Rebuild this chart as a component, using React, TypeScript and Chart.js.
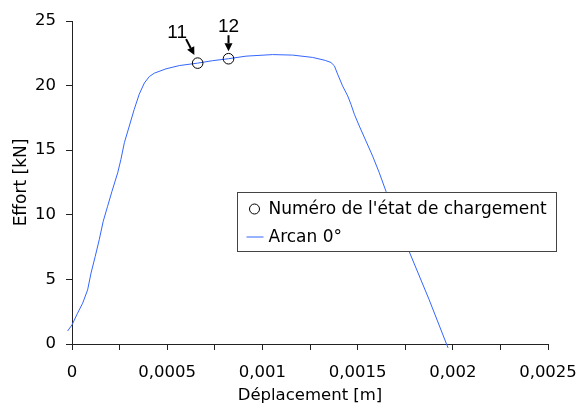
import React, { useEffect, useRef } from 'react';
import { Chart, registerables } from 'chart.js';

Chart.register(...registerables);

// ---- Data ----
const displacement = [
  -0.000023, 0, 0.000029, 0.000056, 0.000082, 0.0001, 0.000122, 0.000143, 0.000164, 0.000187,
  0.00021, 0.00024, 0.000257, 0.000275, 0.000301, 0.000327, 0.000353, 0.00038, 0.000406, 0.000432,
  0.000494, 0.000564, 0.00066, 0.000739, 0.000822, 0.000914, 0.001054, 0.001159, 0.001264, 0.00133,
  0.00136, 0.001378, 0.001395, 0.001421, 0.001448, 0.001465, 0.001483, 0.001509, 0.001544, 0.001579,
  0.001614, 0.001649, 0.001772, 0.001876, 0.001975,
];
const effort = [
  1.01, 1.48, 2.38, 3.16, 4.19, 5.49, 6.78, 8.07, 9.5, 10.66,
  11.82, 13.25, 14.29, 15.58, 16.87, 18.17, 19.33, 20.2, 20.7, 20.96,
  21.3, 21.55, 21.74, 21.93, 22.08, 22.28, 22.4, 22.36, 22.18, 21.95,
  21.79, 21.53, 20.89, 19.98, 19.2, 18.56, 17.78, 16.87, 15.71, 14.54,
  13.25, 11.82, 7.12, 3.42, -0.3,
];
const stateDisplacement = [0.00066, 0.000822];
const stateEffort = [21.74, 22.08];
const stateNumbers = ['11', '12'];

const xTickLabels = ['0', '0,0005', '0,001', '0,0015', '0,002', '0,0025'];
const yTickLabels = ['0', '5', '10', '15', '20', '25'];
const seriesLabel = 'Arcan 0°';
const stateLabel = "Numéro de l'état de chargement";
const xTitle = 'Déplacement [m]';
const yTitle = 'Effort [kN]';

const FONT = "'DejaVu Sans', sans-serif";
const LINE_COLOR = '#3366ff';

const annotationPlugin = {
  id: 'stateAnnotations',
  afterDatasetsDraw(chart: any) {
    const meta = chart.getDatasetMeta(1);
    const ctx: CanvasRenderingContext2D = chart.ctx;
    const specs = [
      { tx: -20.5, ty: -24.7, sx: -11.6, sy: -24, ex: -3.3, ey: -8 },
      { tx: 0, ty: -27, sx: 0, sy: -23.5, ex: 0, ey: -7.6 },
    ];
    ctx.save();
    meta.data.forEach((pt: any, i: number) => {
      const s = specs[i];
      if (!s) return;
      const px = pt.x;
      const py = pt.y;
      ctx.fillStyle = '#000';
      ctx.font = "19px 'Liberation Sans', Arial, sans-serif";
      ctx.textAlign = 'center';
      ctx.textBaseline = 'alphabetic';
      ctx.fillText(stateNumbers[i], px + s.tx, py + s.ty);
      // arrow
      const x0 = px + s.sx, y0 = py + s.sy, x1 = px + s.ex, y1 = py + s.ey;
      const ang = Math.atan2(y1 - y0, x1 - x0);
      const hl = 8, hw = 4;
      const bx = x1 - hl * Math.cos(ang), by = y1 - hl * Math.sin(ang);
      ctx.strokeStyle = '#000';
      ctx.lineWidth = 2;
      ctx.beginPath();
      ctx.moveTo(x0, y0);
      ctx.lineTo(bx, by);
      ctx.stroke();
      ctx.beginPath();
      ctx.moveTo(x1, y1);
      ctx.lineTo(bx + hw * Math.sin(ang), by - hw * Math.cos(ang));
      ctx.lineTo(bx - hw * Math.sin(ang), by + hw * Math.cos(ang));
      ctx.closePath();
      ctx.fill();
    });
    ctx.restore();
  },
};

const legendPlugin = {
  id: 'boxLegend',
  afterDraw(chart: any) {
    const { ctx, chartArea } = chart;
    const left = chartArea.left + 165.5;
    const top = chartArea.top + 171.5;
    const w = 319;
    const h = 59;
    ctx.save();
    ctx.fillStyle = '#fff';
    ctx.fillRect(left, top, w, h);
    ctx.strokeStyle = '#444';
    ctx.lineWidth = 1;
    ctx.strokeRect(left, top, w, h);
    const ds = chart.data.datasets;
    // row 1: markers
    const r1 = top + 16.5;
    ctx.beginPath();
    ctx.arc(left + 17, r1, 5, 0, Math.PI * 2);
    ctx.strokeStyle = ds[1].borderColor;
    ctx.lineWidth = 1;
    ctx.stroke();
    ctx.fillStyle = '#000';
    ctx.font = `17px ${FONT}`;
    ctx.textAlign = 'left';
    ctx.textBaseline = 'middle';
    ctx.fillText(ds[1].label, left + 31, r1 + 0.5);
    // row 2: line
    const r2 = top + 44;
    ctx.beginPath();
    ctx.moveTo(left + 9, r2 + 0.5);
    ctx.lineTo(left + 26, r2 + 0.5);
    ctx.strokeStyle = ds[0].borderColor;
    ctx.stroke();
    ctx.fillText(ds[0].label, left + 31, r2 + 1.5);
    ctx.restore();
  },
};

export default function App() {
  const canvasRef = useRef<HTMLCanvasElement | null>(null);

  useEffect(() => {
    if (!canvasRef.current) return;
    const chart = new Chart(canvasRef.current, {
      type: 'scatter',
      data: {
        datasets: [
          {
            label: seriesLabel,
            data: displacement.map((x, i) => ({ x, y: effort[i] })),
            showLine: true,
            borderColor: LINE_COLOR,
            borderWidth: 1,
            pointRadius: 0,
            tension: 0,
            clip: false as any,
            order: 2,
          },
          {
            label: stateLabel,
            data: stateDisplacement.map((x, i) => ({ x, y: stateEffort[i] })),
            showLine: false,
            borderColor: '#000',
            backgroundColor: 'rgba(0,0,0,0)',
            borderWidth: 1,
            pointRadius: 5.3,
            pointStyle: 'circle',
            order: 1,
          },
        ],
      },
      options: {
        animation: false,
        responsive: false,
        devicePixelRatio: 1,
        layout: { padding: { left: 0, right: 32, top: 21, bottom: 0 } },
        plugins: {
          legend: { display: false },
          tooltip: { enabled: false },
        },
        scales: {
          x: {
            type: 'linear',
            min: 0,
            max: 0.0025,
            afterFit: (s: any) => {
              s.height = 70;
              s.paddingLeft = 0;
              s.paddingRight = 0;
            },
            grid: { drawOnChartArea: false, drawTicks: true, tickLength: 6, color: '#222' },
            border: { display: true, color: '#222', width: 1 },
            ticks: {
              stepSize: 0.00025,
              autoSkip: false,
              maxRotation: 0,
              padding: 13,
              color: '#000',
              font: { family: FONT, size: 16.5 },
              callback: (value: any) => {
                const v = Number(value);
                const k = Math.round(v / 0.0005);
                if (Math.abs(v - k * 0.0005) < 1e-9) return xTickLabels[k] ?? '';
                return '';
              },
            },
            title: {
              display: true,
              text: xTitle,
              color: '#000',
              font: { family: FONT, size: 16.5 },
              padding: { top: 0, bottom: 8.3 },
            },
          },
          y: {
            type: 'linear',
            min: 0,
            max: 25,
            afterFit: (s: any) => {
              s.width = 72;
              s.paddingTop = 0;
              s.paddingBottom = 0;
            },
            grid: { drawOnChartArea: false, drawTicks: true, tickLength: 6, color: '#222' },
            border: { display: true, color: '#222', width: 1 },
            ticks: {
              stepSize: 5,
              padding: 10,
              color: '#000',
              font: { family: FONT, size: 16.5 },
              callback: (value: any) => yTickLabels[Math.round(Number(value) / 5)] ?? '',
            },
            title: {
              display: true,
              text: yTitle,
              color: '#000',
              font: { family: FONT, size: 17 },
              padding: { top: 11, bottom: 0 },
            },
          },
        },
      },
      plugins: [annotationPlugin, legendPlugin],
    });
    return () => chart.destroy();
  }, []);

  return (
    <div style={{ position: 'fixed', left: 0, top: 0, width: 580, height: 414, background: '#fff' }}>
      <canvas ref={canvasRef} width={580} height={414} style={{ display: 'block' }} />
    </div>
  );
}
